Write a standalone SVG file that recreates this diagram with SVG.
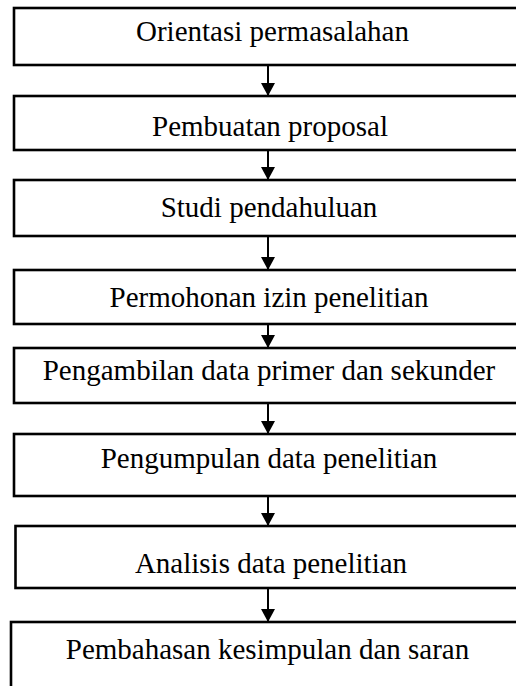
<svg xmlns="http://www.w3.org/2000/svg" width="516" height="686" viewBox="0 0 516 686">
<style>
.box{fill:#fff;stroke:#000;stroke-width:2.6}
.lbl{font-family:"Liberation Serif","Times New Roman",serif;font-size:29px;fill:#000;text-anchor:middle}
.con{stroke:#000;stroke-width:2;fill:none;marker-end:url(#ah)}
</style>
<defs>
<marker id="ah" markerUnits="userSpaceOnUse" markerWidth="14" markerHeight="14" refX="13" refY="7" orient="auto">
<path d="M0,0 L13,7 L0,14 z" fill="#000"/>
</marker>
</defs>
<rect width="516" height="686" fill="#fff"/>
<g id="n1"><rect class="box" x="14" y="8" width="520" height="57"/><text class="lbl" x="272.5" y="41">Orientasi permasalahan</text></g>
<g id="n2"><rect class="box" x="14" y="96" width="520" height="54"/><text class="lbl" x="270" y="136">Pembuatan proposal</text></g>
<g id="n3"><rect class="box" x="14" y="180" width="520" height="56"/><text class="lbl" x="269" y="217">Studi pendahuluan</text></g>
<g id="n4"><rect class="box" x="14" y="270" width="520" height="54"/><text class="lbl" x="269" y="307">Permohonan izin penelitian</text></g>
<g id="n5"><rect class="box" x="14" y="348" width="520" height="55"/><text class="lbl" x="269" y="380">Pengambilan data primer dan sekunder</text></g>
<g id="n6"><rect class="box" x="14" y="434" width="520" height="62"/><text class="lbl" x="269" y="468">Pengumpulan data penelitian</text></g>
<g id="n7"><rect class="box" x="15.5" y="526" width="520" height="62"/><text class="lbl" x="271" y="573">Analisis data penelitian</text></g>
<g id="n8"><rect class="box" x="11" y="622" width="520" height="80"/><text class="lbl" x="267.5" y="659">Pembahasan kesimpulan dan saran</text></g>
<g id="connectors">
<line class="con" x1="268" y1="65" x2="268" y2="96"/>
<line class="con" x1="268" y1="150" x2="268" y2="180"/>
<line class="con" x1="268" y1="236" x2="268" y2="270"/>
<line class="con" x1="268" y1="324" x2="268" y2="348"/>
<line class="con" x1="268" y1="403" x2="268" y2="434"/>
<line class="con" x1="268" y1="496" x2="268" y2="526"/>
<line class="con" x1="268" y1="588" x2="268" y2="622"/>
</g>
</svg>
